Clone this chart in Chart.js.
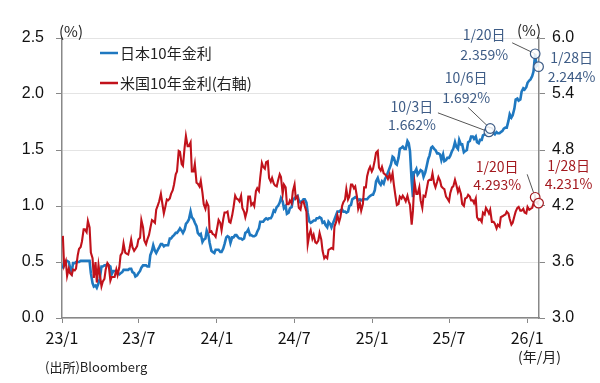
<!DOCTYPE html>
<html><head><meta charset="utf-8">
<script src="https://cdn.jsdelivr.net/npm/chart.js@4/dist/chart.umd.min.js"></script>
<style>html,body{margin:0;padding:0;background:#fff}canvas{display:block}</style>
</head><body>
<canvas id="c" width="600" height="383"></canvas>
<script>
const dates = [
'2023-01-03','2023-01-06','2023-01-10','2023-01-13','2023-01-17','2023-01-20','2023-01-24','2023-01-27','2023-01-31',
'2023-02-03','2023-02-07','2023-02-10','2023-02-14','2023-02-17','2023-02-21','2023-02-24','2023-02-28',
'2023-03-03','2023-03-07','2023-03-10','2023-03-14','2023-03-17','2023-03-21','2023-03-24','2023-03-28','2023-03-31',
'2023-04-04','2023-04-07','2023-04-11','2023-04-14','2023-04-18','2023-04-21','2023-04-25','2023-04-28',
'2023-05-02','2023-05-05','2023-05-09','2023-05-12','2023-05-16','2023-05-19','2023-05-23','2023-05-26','2023-05-30',
'2023-06-02','2023-06-06','2023-06-09','2023-06-13','2023-06-16','2023-06-20','2023-06-23','2023-06-27','2023-06-30',
'2023-07-04','2023-07-07','2023-07-11','2023-07-14','2023-07-18','2023-07-21','2023-07-25','2023-07-28',
'2023-08-01','2023-08-04','2023-08-08','2023-08-11','2023-08-15','2023-08-18','2023-08-22','2023-08-25','2023-08-29',
'2023-09-01','2023-09-05','2023-09-08','2023-09-12','2023-09-15','2023-09-19','2023-09-22','2023-09-26','2023-09-29',
'2023-10-03','2023-10-06','2023-10-10','2023-10-13','2023-10-17','2023-10-20','2023-10-24','2023-10-27','2023-10-31',
'2023-11-03','2023-11-07','2023-11-10','2023-11-14','2023-11-17','2023-11-21','2023-11-24','2023-11-28',
'2023-12-01','2023-12-05','2023-12-08','2023-12-12','2023-12-15','2023-12-19','2023-12-22','2023-12-26','2023-12-29',
'2024-01-05','2024-01-09','2024-01-12','2024-01-16','2024-01-19','2024-01-23','2024-01-26','2024-01-30',
'2024-02-02','2024-02-06','2024-02-09','2024-02-13','2024-02-16','2024-02-20','2024-02-23','2024-02-27',
'2024-03-01','2024-03-05','2024-03-08','2024-03-12','2024-03-15','2024-03-19','2024-03-22','2024-03-26','2024-03-29',
'2024-04-02','2024-04-05','2024-04-09','2024-04-12','2024-04-16','2024-04-19','2024-04-23','2024-04-26','2024-04-30',
'2024-05-03','2024-05-07','2024-05-10','2024-05-14','2024-05-17','2024-05-21','2024-05-24','2024-05-28','2024-05-31',
'2024-06-04','2024-06-07','2024-06-11','2024-06-14','2024-06-18','2024-06-21','2024-06-25','2024-06-28',
'2024-07-02','2024-07-05','2024-07-09','2024-07-12','2024-07-16','2024-07-19','2024-07-23','2024-07-26','2024-07-30',
'2024-08-02','2024-08-06','2024-08-09','2024-08-13','2024-08-16','2024-08-20','2024-08-23','2024-08-27','2024-08-30',
'2024-09-03','2024-09-06','2024-09-10','2024-09-13','2024-09-17','2024-09-20','2024-09-24','2024-09-27',
'2024-10-01','2024-10-04','2024-10-08','2024-10-11','2024-10-15','2024-10-18','2024-10-22','2024-10-25','2024-10-29',
'2024-11-01','2024-11-05','2024-11-08','2024-11-12','2024-11-15','2024-11-19','2024-11-22','2024-11-26','2024-11-29',
'2024-12-03','2024-12-06','2024-12-10','2024-12-13','2024-12-17','2024-12-20','2024-12-24','2024-12-27','2024-12-31',
'2025-01-03','2025-01-07','2025-01-10','2025-01-14','2025-01-17','2025-01-21','2025-01-24','2025-01-28','2025-01-31',
'2025-02-04','2025-02-07','2025-02-11','2025-02-14','2025-02-18','2025-02-21','2025-02-25','2025-02-28',
'2025-03-04','2025-03-07','2025-03-11','2025-03-14','2025-03-18','2025-03-21','2025-03-25','2025-03-28','2025-03-31',
'2025-04-04','2025-04-07','2025-04-09','2025-04-11','2025-04-15','2025-04-18','2025-04-22','2025-04-25','2025-04-29',
'2025-05-02','2025-05-06','2025-05-09','2025-05-13','2025-05-16','2025-05-20','2025-05-23','2025-05-27','2025-05-30',
'2025-06-03','2025-06-06','2025-06-10','2025-06-13','2025-06-17','2025-06-20','2025-06-24','2025-06-27',
'2025-07-01','2025-07-04','2025-07-08','2025-07-11','2025-07-15','2025-07-18','2025-07-22','2025-07-25','2025-07-29',
'2025-08-01','2025-08-05','2025-08-08','2025-08-12','2025-08-15','2025-08-19','2025-08-22','2025-08-26','2025-08-29',
'2025-09-02','2025-09-05','2025-09-09','2025-09-12','2025-09-16','2025-09-19','2025-09-23','2025-09-26','2025-09-30',
'2025-10-03','2025-10-06','2025-10-10','2025-10-14','2025-10-17','2025-10-21','2025-10-24','2025-10-28','2025-10-31',
'2025-11-04','2025-11-07','2025-11-11','2025-11-14','2025-11-18','2025-11-21','2025-11-25','2025-11-28',
'2025-12-02','2025-12-05','2025-12-09','2025-12-12','2025-12-16','2025-12-19','2025-12-23','2025-12-26','2025-12-30',
'2026-01-02','2026-01-06','2026-01-09','2026-01-13','2026-01-16','2026-01-20','2026-01-23','2026-01-27','2026-01-28'
];
const japan10y = [
0.44,0.50,0.50,0.51,0.50,0.45,0.41,0.49,0.49,
0.50,0.50,0.50,0.51,0.51,0.51,0.51,0.51,
0.51,0.51,0.40,0.31,0.28,0.29,0.27,0.31,0.35,
0.46,0.46,0.47,0.47,0.48,0.47,0.46,0.39,
0.42,0.42,0.42,0.40,0.39,0.40,0.41,0.43,0.43,
0.43,0.43,0.44,0.44,0.41,0.40,0.37,0.38,0.40,
0.42,0.45,0.47,0.47,0.47,0.46,0.46,0.56,
0.60,0.65,0.60,0.58,0.61,0.63,0.66,0.66,0.64,
0.65,0.65,0.65,0.71,0.71,0.73,0.74,0.76,0.76,
0.78,0.80,0.78,0.76,0.79,0.84,0.86,0.88,0.95,
0.90,0.88,0.85,0.82,0.76,0.74,0.75,0.68,
0.70,0.71,0.78,0.74,0.67,0.60,0.59,0.58,0.61,
0.61,0.59,0.59,0.62,0.66,0.72,0.73,0.72,
0.67,0.72,0.72,0.74,0.74,0.72,0.71,0.71,
0.70,0.71,0.76,0.77,0.79,0.74,0.74,0.73,0.73,
0.74,0.77,0.80,0.86,0.86,0.86,0.88,0.89,0.88,
0.89,0.89,0.91,0.96,0.95,0.99,1.00,1.03,1.07,
1.04,0.98,1.00,0.93,0.94,0.98,0.99,1.05,
1.07,1.08,1.09,1.05,1.03,1.04,1.06,1.06,1.03,
0.94,0.86,0.85,0.86,0.87,0.87,0.89,0.89,0.90,
0.89,0.85,0.86,0.83,0.81,0.86,0.84,0.81,
0.85,0.88,0.92,0.95,0.95,0.96,0.97,0.95,0.95,
0.94,0.95,1.00,1.01,1.06,1.07,1.08,1.07,1.05,
1.06,1.05,1.06,1.06,1.06,1.06,1.08,1.09,1.10,
1.10,1.14,1.22,1.25,1.21,1.19,1.22,1.20,1.24,
1.27,1.30,1.34,1.37,1.44,1.43,1.38,1.37,
1.43,1.51,1.52,1.53,1.51,1.51,1.58,1.56,1.49,
1.22,1.08,1.30,1.30,1.33,1.28,1.30,1.32,1.31,
1.26,1.30,1.35,1.42,1.45,1.52,1.53,1.51,1.50,
1.47,1.47,1.46,1.41,1.46,1.40,1.41,1.43,
1.43,1.45,1.49,1.51,1.57,1.53,1.51,1.59,1.55,
1.55,1.48,1.49,1.50,1.57,1.58,1.62,1.62,1.60,
1.62,1.57,1.56,1.59,1.59,1.63,1.64,1.64,1.65,
1.662,1.692,1.69,1.65,1.64,1.66,1.65,1.65,1.66,
1.67,1.69,1.70,1.70,1.76,1.82,1.79,1.81,
1.87,1.95,1.96,1.94,1.95,2.02,2.05,2.04,2.06,
2.10,2.12,2.13,2.16,2.20,2.359,2.25,2.27,2.244
];
const us10y = [
3.88,3.56,3.61,3.45,3.53,3.48,3.46,3.52,3.51,
3.53,3.67,3.74,3.76,3.82,3.95,3.95,3.92,
4.04,3.97,3.70,3.64,3.43,3.60,3.38,3.57,3.47,
3.34,3.39,3.42,3.52,3.59,3.57,3.40,3.44,
3.44,3.44,3.52,3.46,3.54,3.67,3.70,3.80,3.70,
3.69,3.68,3.74,3.84,3.76,3.72,3.74,3.77,3.84,
3.86,4.05,3.97,3.83,3.79,3.84,3.89,3.96,
4.05,4.04,4.02,4.16,4.21,4.25,4.33,4.24,4.12,
4.18,4.27,4.26,4.28,4.33,4.37,4.43,4.54,4.57,
4.79,4.78,4.65,4.63,4.83,4.95,4.84,4.84,4.88,
4.57,4.57,4.65,4.45,4.44,4.41,4.47,4.34,
4.22,4.17,4.24,4.20,3.92,3.93,3.90,3.89,3.87,
4.05,4.02,3.94,4.06,4.13,4.13,4.14,4.03,
4.02,4.10,4.18,4.31,4.28,4.27,4.25,4.31,
4.18,4.14,4.08,4.15,4.30,4.30,4.21,4.23,4.20,
4.36,4.39,4.36,4.50,4.66,4.62,4.60,4.67,4.68,
4.50,4.46,4.50,4.44,4.42,4.41,4.47,4.54,4.51,
4.33,4.43,4.40,4.22,4.22,4.26,4.23,4.36,
4.43,4.28,4.30,4.18,4.16,4.24,4.25,4.20,4.14,
3.79,3.90,3.94,3.85,3.89,3.81,3.80,3.83,3.91,
3.84,3.72,3.64,3.66,3.64,3.73,3.74,3.75,
3.74,3.98,4.03,4.10,4.03,4.08,4.20,4.24,4.27,
4.38,4.27,4.30,4.43,4.43,4.39,4.41,4.30,4.17,
4.23,4.15,4.22,4.40,4.40,4.52,4.59,4.62,4.57,
4.60,4.69,4.77,4.79,4.61,4.58,4.62,4.55,4.54,
4.52,4.49,4.54,4.48,4.55,4.43,4.30,4.21,
4.22,4.30,4.28,4.31,4.28,4.25,4.31,4.25,4.21,
4.00,4.15,4.34,4.45,4.33,4.33,4.40,4.26,4.18,
4.31,4.30,4.37,4.47,4.48,4.48,4.55,4.44,4.40,
4.46,4.51,4.47,4.41,4.39,4.38,4.30,4.28,
4.25,4.34,4.40,4.41,4.48,4.43,4.35,4.39,4.33,
4.22,4.20,4.28,4.29,4.32,4.30,4.26,4.26,4.23,
4.28,4.08,4.05,4.06,4.03,4.13,4.11,4.18,4.15,
4.12,4.16,4.03,4.03,4.01,3.96,4.00,3.98,4.08,
4.09,4.10,4.11,4.14,4.12,4.06,4.00,4.02,
4.09,4.14,4.18,4.19,4.15,4.15,4.17,4.13,4.12,
4.19,4.16,4.17,4.18,4.23,4.293,4.24,4.22,4.231
];
const seriesNames = ['日本10年金利', '米国10年金利(右軸)'];
const xTickDates = ['2023-01-01','2023-07-01','2024-01-01','2024-07-01','2025-01-01','2025-07-01','2026-01-01'];
const xTickLabels = ['23/1','23/7','24/1','24/7','25/1','25/7','26/1'];
const xRange = ['2023-01-01','2026-01-29'];
const leftTicks = [0.0, 0.5, 1.0, 1.5, 2.0, 2.5];
const rightTicks = [3.0, 3.6, 4.2, 4.8, 5.4, 6.0];
// annotated points (values are looked up in the data by date)
const annotations = [
  {series:'jp', date:'2025-10-03', dx:-77, dy:[-25,-7],  leader:[-51,-19]},
  {series:'jp', date:'2025-10-06', dx:-24, dy:[-51,-31], leader:[-22,-21]},
  {series:'jp', date:'2026-01-20', dx:-51, dy:[-19,1],   leader:[-23,-11]},
  {series:'jp', date:'2026-01-28', dx:33,  dy:[-9,10]},
  {series:'us', date:'2026-01-20', dx:-38, dy:[-31,-13], leader:[-8,-23]},
  {series:'us', date:'2026-01-28', dx:30,  dy:[-37,-19]}
];

const JP_COLOR = '#1f78c0', US_COLOR = '#c1121b';
const JP_TEXT = '#3e5c86', US_TEXT = '#a3191f';
const CJK = '"Noto Sans CJK JP", "Noto Sans", sans-serif';
const NUM = '"Liberation Sans", Arial, sans-serif';

function dayNum(s){ const [y,m,d]=s.split('-').map(Number); return (Date.UTC(y,m-1,d)-Date.UTC(2023,0,1))/86400000; }

const overlay = {
  id:'overlay',
  afterDatasetsDraw(chart){
    const ctx = chart.ctx, sx = chart.scales.x, yl = chart.scales.y, yr = chart.scales.y2;
    ctx.save();
    annotations.forEach(a=>{
      const i = dates.indexOf(a.date);
      const v = a.series==='jp' ? japan10y[i] : us10y[i];
      const px = sx.getPixelForValue(dayNum(a.date));
      const py = (a.series==='jp'?yl:yr).getPixelForValue(v);
      const tc = a.series==='jp' ? JP_TEXT : US_TEXT;
      if(a.leader){
        ctx.beginPath(); ctx.moveTo(px+a.leader[0], py+a.leader[1]); ctx.lineTo(px,py);
        ctx.strokeStyle='#555'; ctx.lineWidth=1; ctx.stroke();
      }
      ctx.beginPath(); ctx.arc(px,py,4.8,0,Math.PI*2);
      ctx.fillStyle='rgba(255,255,255,0.85)'; ctx.fill();
      ctx.strokeStyle=tc; ctx.lineWidth=1.2; ctx.stroke();
      const [,m,d] = a.date.split('-').map(Number);
      const lines = [m+'/'+d+'日', v.toFixed(3)+'%'];
      ctx.font = '14px '+CJK; ctx.textAlign='center'; ctx.textBaseline='middle'; ctx.fillStyle=tc;
      lines.forEach((t,k)=>ctx.fillText(t, px+a.dx, py+a.dy[k]));
    });
    ctx.restore();
  },
  afterDraw(chart){
    const ctx = chart.ctx;
    ctx.save();
    const items = [[seriesNames[0], JP_COLOR, 53],[seriesNames[1], US_COLOR, 83]];
    items.forEach(([t,c,y])=>{
      ctx.beginPath(); ctx.moveTo(100,y); ctx.lineTo(118,y);
      ctx.strokeStyle=c; ctx.lineWidth=2.5; ctx.stroke();
      ctx.font='15px '+CJK; ctx.fillStyle='#222'; ctx.textAlign='left'; ctx.textBaseline='middle';
      ctx.fillText(t,120,y);
    });
    ctx.font='15px '+CJK; ctx.fillStyle='#222'; ctx.textBaseline='middle';
    ctx.textAlign='left'; ctx.fillText('(%)',59,31);
    ctx.textAlign='right'; ctx.fillText('(%)',541,30);
    ctx.font='14px '+CJK;
    ctx.textAlign='left'; ctx.fillText('(年/月)',518,357);
    ctx.font='13px '+CJK; ctx.fillText('(出所)Bloomberg',45,367);
    ctx.restore();
  }
};

new Chart(document.getElementById('c'), {
  type:'line',
  data:{ datasets:[
    {label:seriesNames[0], data:dates.map((d,i)=>({x:dayNum(d), y:japan10y[i]})), yAxisID:'y',
     borderColor:JP_COLOR, borderWidth:2.6, pointRadius:0, tension:0, order:1},
    {label:seriesNames[1], data:dates.map((d,i)=>({x:dayNum(d), y:us10y[i]})), yAxisID:'y2',
     borderColor:US_COLOR, borderWidth:2.1, pointRadius:0, tension:0, order:0}
  ]},
  options:{
    responsive:false, animation:false, devicePixelRatio:1,
    layout:{padding:{top:38,left:0,right:0,bottom:0}},
    plugins:{legend:{display:false}, tooltip:{enabled:false}},
    scales:{
      x:{type:'linear', min:dayNum(xRange[0]), max:dayNum(xRange[1]),
        afterBuildTicks:s=>{s.ticks = xTickDates.map(d=>({value:dayNum(d)}));},
        afterFit:s=>{s.height=65;},
        ticks:{autoSkip:false, maxRotation:0, padding:5, color:'#111', font:{family:CJK,size:16},
          callback:(v,i)=>xTickLabels[i]},
        grid:{drawOnChartArea:false, tickLength:5, tickColor:'#888'},
        border:{color:'#888', width:1.5}},
      y:{position:'left', min:leftTicks[0], max:leftTicks[leftTicks.length-1],
        afterBuildTicks:s=>{s.ticks = leftTicks.map(v=>({value:v}));},
        afterFit:s=>{s.width=62;},
        ticks:{padding:12, color:'#111', font:{family:NUM,size:16}, callback:v=>Number(v).toFixed(1)},
        grid:{color:'#e4e4e4', tickColor:'#888', tickLength:6},
        border:{color:'#888', width:1.5}},
      y2:{position:'right', min:rightTicks[0], max:rightTicks[rightTicks.length-1],
        afterBuildTicks:s=>{s.ticks = rightTicks.map(v=>({value:v}));},
        afterFit:s=>{s.width=61;},
        ticks:{padding:7, color:'#111', font:{family:NUM,size:16}, callback:v=>Number(v).toFixed(1)},
        grid:{drawOnChartArea:false, tickColor:'#888', tickLength:6},
        border:{color:'#888', width:1.5}}
    }
  },
  plugins:[overlay]
});
</script>
</body></html>
